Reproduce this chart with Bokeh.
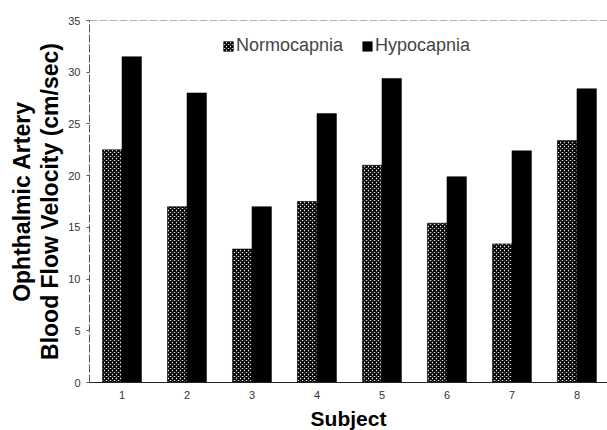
from bokeh.plotting import figure
from bokeh.models import ColumnDataSource, Range1d, Span, Legend, LegendItem, FixedTicker
from bokeh.transform import dodge
from bokeh.embed import file_html
from bokeh.resources import INLINE

subjects = [1, 2, 3, 4, 5, 6, 7, 8]
normocapnia = [22.5, 17.0, 12.9, 17.5, 21.0, 15.4, 13.4, 23.4]
hypocapnia = [31.5, 28.0, 17.0, 26.0, 29.4, 19.9, 22.4, 28.4]
y_ticks = [0, 5, 10, 15, 20, 25, 30, 35]

src = ColumnDataSource(data=dict(x=subjects, normo=normocapnia, hypo=hypocapnia))

p = figure(frame_width=518, frame_height=362, output_backend="svg", toolbar_location=None,
           x_range=Range1d(0.5, 8.47), y_range=Range1d(0, 35),
           min_border_left=89, min_border_right=0, min_border_top=20, min_border_bottom=0)
p.outline_line_color = None
p.background_fill_color = "white"
p.border_fill_color = "white"
p.xgrid.grid_line_color = None
p.ygrid.grid_line_color = None

r1 = p.vbar(x=dodge('x', -0.15, range=p.x_range), top='normo', width=0.3, source=src,
            fill_color="white", line_color="black", line_width=0.6,
            hatch_pattern="diagonal_cross", hatch_color="black", hatch_scale=4, hatch_weight=1.9)
r2 = p.vbar(x=dodge('x', 0.15, range=p.x_range), top='hypo', width=0.3, source=src,
            fill_color="black", line_color="black", line_width=0.5)

top = Span(location=35, dimension="width", line_color="#666666", line_width=1, line_dash="8 2")
p.add_layout(top)

p.xaxis.ticker = FixedTicker(ticks=subjects)
p.yaxis.ticker = FixedTicker(ticks=y_ticks)
p.xaxis.axis_label = "Subject"
p.yaxis.axis_label = "Ophthalmic Artery\nBlood Flow Velocity (cm/sec)"
for ax in (p.xaxis, p.yaxis):
    ax.axis_label_text_font = "Liberation Sans"
    ax.axis_label_text_font_style = "bold"
    ax.axis_label_text_color = "black"
    ax.major_label_text_font = "Liberation Sans"
    ax.major_label_text_font_size = "11px"
    ax.major_label_text_color = "#333333"
    ax.minor_tick_line_color = None
p.xaxis.axis_label_text_font_size = "21px"
p.yaxis.axis_label_text_font_size = "23px"
p.yaxis.axis_label_text_line_height = 1.08
p.xaxis.major_tick_line_color = None
p.xaxis.major_tick_out = 0
p.xaxis.major_tick_in = 0
p.xaxis.axis_line_color = "#222222"
p.xaxis.major_label_standoff = 8
p.xaxis.axis_label_standoff = 5
p.yaxis.axis_line_color = "#555555"
p.yaxis.axis_line_dash = "8 2"
p.yaxis.major_tick_line_color = "#555555"
p.yaxis.major_tick_in = 0
p.yaxis.major_tick_out = 3
p.yaxis.major_label_standoff = 6
p.yaxis.axis_label_standoff = 2

legend = Legend(items=[LegendItem(label="Normocapnia", renderers=[r1]),
                       LegendItem(label="Hypocapnia", renderers=[r2])],
                orientation="horizontal", location=(133, 326),
                border_line_color=None, background_fill_alpha=0,
                label_text_font="Liberation Sans", label_text_font_size="18px",
                glyph_width=12, glyph_height=12, spacing=18, label_standoff=2, padding=0)
p.add_layout(legend)

open("out.html", "w").write(file_html(p, INLINE))
